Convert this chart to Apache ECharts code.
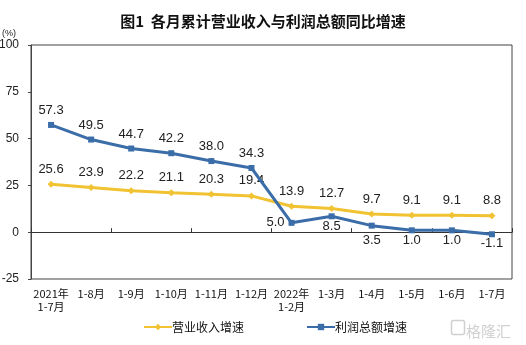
<!DOCTYPE html>
<html>
<head>
<meta charset="utf-8">
<script src="https://cdn.jsdelivr.net/npm/echarts@6/dist/echarts.min.js"></script>
<style>
  html, body { margin: 0; padding: 0; background: #fff; }
  #chart { width: 526px; height: 345px; }
</style>
</head>
<body>
<div id="chart"></div>
<script>
// Periods (cumulative months)
const categories = ['2021年\n1-7月', '1-8月', '1-9月', '1-10月', '1-11月', '1-12月',
  '2022年\n1-2月', '1-3月', '1-4月', '1-5月', '1-6月', '1-7月'];
// Year-on-year growth, %
const revenueGrowth = [25.6, 23.9, 22.2, 21.1, 20.3, 19.4, 13.9, 12.7, 9.7, 9.1, 9.1, 8.8];
const profitGrowth = [57.3, 49.5, 44.7, 42.2, 38.0, 34.3, 5.0, 8.5, 3.5, 1.0, 1.0, -1.1];
// Where each profit label sits relative to its point, and how far away
const profitLabelPos = ['top', 'top', 'top', 'top', 'top', 'top', 'left', 'bottom', 'bottom', 'bottom', 'bottom', 'bottom'];
const profitLabelGap = [5, 5, 5, 5, 5, 5, 4, 1, 5, 1, 1, 0];

const CJK = '"Noto Sans CJK SC", sans-serif';
const NUM = '"Liberation Sans", Arial, sans-serif';
const YELLOW = '#F1C232';
const BLUE = '#3B6DA8';

const chart = echarts.init(document.getElementById('chart'), null, { renderer: 'canvas' });

const labelStyle = {
  show: true, fontSize: 13, color: '#222', fontFamily: NUM,
  formatter: p => Number(p.value).toFixed(1)
};

chart.setOption({
  animation: false,
  backgroundColor: '#fff',
  title: {
    text: '图1  各月累计营业收入与利润总额同比增速',
    left: 'center',
    top: 9,
    textStyle: { fontSize: 15, fontWeight: 'bold', color: '#111', fontFamily: CJK }
  },
  grid: {
    left: 31, right: 14, top: 45, bottom: 66,
    containLabel: false,
    outerBoundsMode: 'none',
    show: true, borderColor: '#444', borderWidth: 1, backgroundColor: 'transparent'
  },
  legend: {
    bottom: 7,
    left: 138,
    itemGap: 62,
    itemWidth: 28,
    itemHeight: 8,
    textStyle: { fontSize: 12, color: '#111', fontFamily: CJK, padding: [0, 0, 0, -5] },
    data: ['营业收入增速', '利润总额增速']
  },
  graphic: [
    {
      type: 'text', left: 2, top: 29,
      style: { text: '(%)', fontSize: 9, fill: '#222', fontFamily: NUM }
    },
    {
      type: 'rect', left: 449, bottom: 8,
      shape: { width: 13, height: 14, r: 2 },
      style: { fill: 'none', stroke: '#d0d0d0', lineWidth: 1.5 }
    },
    {
      type: 'text', left: 466, bottom: 6,
      style: { text: '格隆汇', fontSize: 15, fill: '#d0d0d0', fontFamily: CJK }
    }
  ],
  xAxis: [
    {
      // zero line with inward ticks
      type: 'category',
      data: categories,
      boundaryGap: true,
      axisLine: { onZero: true, lineStyle: { color: '#333', width: 1 } },
      axisTick: { show: true, inside: true, length: 4, lineStyle: { color: '#333' } },
      axisLabel: { show: false },
      splitLine: { show: false }
    },
    {
      // period labels along the bottom edge
      type: 'category',
      data: categories,
      position: 'bottom',
      boundaryGap: true,
      axisLine: { show: false, onZero: false },
      axisTick: { show: false },
      axisLabel: {
        show: true, interval: 0, fontSize: 11, color: '#111', margin: 8,
        lineHeight: 13, fontFamily: CJK
      },
      splitLine: { show: false }
    }
  ],
  yAxis: {
    type: 'value',
    min: -25, max: 100, interval: 25,
    axisLine: { show: true, lineStyle: { color: '#444' } },
    axisTick: { show: true, length: 3, lineStyle: { color: '#444' } },
    axisLabel: { fontSize: 12, color: '#222', margin: 12, fontFamily: '"Liberation Sans Narrow", ' + NUM },
    splitLine: { show: false }
  },
  series: [
    {
      name: '营业收入增速',
      type: 'line',
      xAxisIndex: 0,
      data: revenueGrowth,
      symbol: 'diamond',
      symbolSize: 7,
      lineStyle: { color: YELLOW, width: 3 },
      itemStyle: { color: YELLOW },
      label: Object.assign({ position: 'top', distance: 5 }, labelStyle),
      z: 3
    },
    {
      name: '利润总额增速',
      type: 'line',
      xAxisIndex: 0,
      data: profitGrowth.map((v, i) => ({
        value: v,
        label: { position: profitLabelPos[i], distance: profitLabelGap[i] }
      })),
      symbol: 'rect',
      symbolSize: 6,
      lineStyle: { color: BLUE, width: 3 },
      itemStyle: { color: BLUE },
      label: Object.assign({ distance: 5 }, labelStyle),
      z: 4
    }
  ]
});
</script>
</body>
</html>
